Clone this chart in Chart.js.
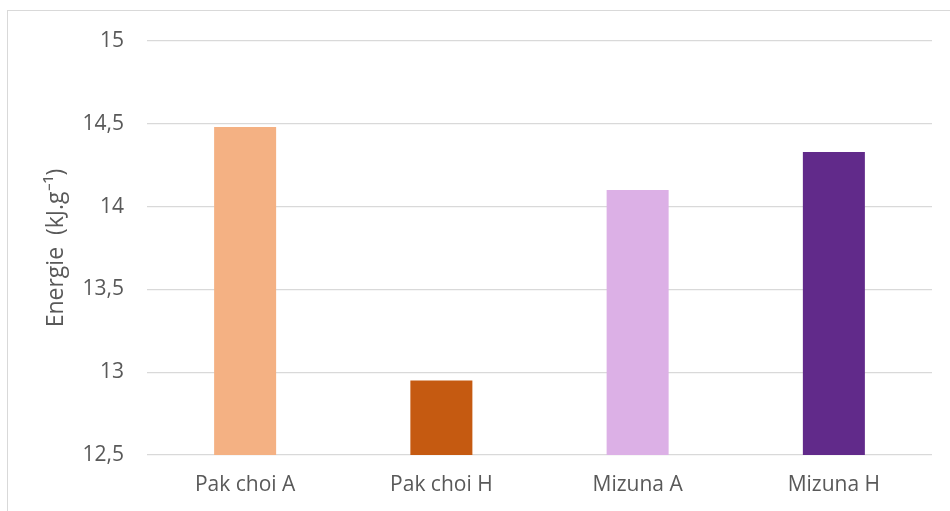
<!DOCTYPE html>
<html>
<head>
<meta charset="utf-8">
<script src="https://cdn.jsdelivr.net/npm/chart.js@4.4.1/dist/chart.umd.min.js"></script>
<style>
  html, body { margin: 0; padding: 0; background: #fff; overflow: hidden; }
  #frame { position: absolute; left: 7px; top: 10px; width: 1000px; height: 600px; border: 1px solid #d9d9d9; }
  #wrap { position: absolute; left: 0; top: 0; width: 950px; height: 511px; }
</style>
</head>
<body>
<div id="frame"></div>
<div id="wrap"><canvas id="chart"></canvas></div>
<script>
// data
const categories = ['Pak choi A', 'Pak choi H', 'Mizuna A', 'Mizuna H'];
const energyValues = [14.48, 12.95, 14.10, 14.33];
const barColors = ['#F4B183', '#C55A11', '#DCB0E6', '#612A8A'];
const yTicks = [12.5, 13, 13.5, 14, 14.5, 15];

const textColor = '#595959';
const fontFamily = '"Open Sans", "Liberation Sans", sans-serif';

new Chart(document.getElementById('chart'), {
    type: 'bar',
    data: {
        labels: categories,
        datasets: [{
            data: energyValues,
            backgroundColor: barColors,
            borderWidth: 0,
            categoryPercentage: 1.0,
            barPercentage: 0.316,
        }],
    },
    options: {
        responsive: true,
        maintainAspectRatio: false,
        animation: false,
        layout: { padding: { left: 0, right: 18, top: 41, bottom: 0 } },
        plugins: { legend: { display: false }, tooltip: { enabled: false } },
        scales: {
            x: {
                grid: { display: false, drawTicks: false },
                border: { display: false },
                ticks: { color: textColor, font: { family: fontFamily, size: 21 }, padding: 17 },
                afterFit: (scale) => { scale.height = 56; },
            },
            y: {
                min: 12.5,
                max: 15,
                afterBuildTicks: (scale) => { scale.ticks = yTicks.map(v => ({ value: v })); },
                grid: { color: '#d9d9d9', lineWidth: 1.3, drawTicks: false },
                border: { display: false },
                ticks: {
                    color: textColor,
                    font: { family: fontFamily, size: 21 },
                    padding: 23,
                    callback: (v) => String(v).replace('.', ','),
                },
                title: {
                    display: true,
                    text: 'Energie  (kJ.g\u207B\u00B9)',
                    color: textColor,
                    font: { family: fontFamily, size: 23, weight: 'normal' },
                    padding: { top: 43, bottom: 0 },
                },
                afterFit: (scale) => { scale.width = 147; },
            },
        },
    },
});
</script>
</body>
</html>
